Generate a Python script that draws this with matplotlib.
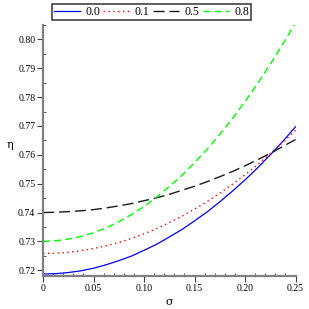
import matplotlib
matplotlib.use("Agg")
import matplotlib.pyplot as plt
from matplotlib.ticker import MultipleLocator

sigma = [0.0, 0.0125, 0.025, 0.0375, 0.05, 0.0625, 0.075, 0.0875, 0.1, 0.1125, 0.125,
         0.1375, 0.15, 0.1625, 0.175, 0.1875, 0.2, 0.2125, 0.225, 0.2375, 0.25]
eta_00 = [0.7187, 0.7188, 0.7192, 0.7198, 0.7207, 0.7219, 0.7233, 0.7249, 0.7269, 0.7290, 0.7315,
          0.7341, 0.7371, 0.7402, 0.7437, 0.7474, 0.7513, 0.7555, 0.7600, 0.7647, 0.7697]
eta_01 = [0.7258, 0.7259, 0.7262, 0.7268, 0.7275, 0.7285, 0.7296, 0.7310, 0.7326, 0.7344, 0.7365,
          0.7387, 0.7412, 0.7438, 0.7467, 0.7498, 0.7531, 0.7566, 0.7604, 0.7643, 0.7685]
eta_05 = [0.7400, 0.7401, 0.7403, 0.7406, 0.7410, 0.7416, 0.7423, 0.7431, 0.7441, 0.7451, 0.7463,
          0.7477, 0.7491, 0.7507, 0.7524, 0.7542, 0.7562, 0.7583, 0.7605, 0.7629, 0.7653]
eta_08 = [0.7300, 0.7302, 0.7308, 0.7317, 0.7330, 0.7347, 0.7368, 0.7393, 0.7421, 0.7454, 0.7490,
          0.7529, 0.7573, 0.7620, 0.7671, 0.7726, 0.7785, 0.7848, 0.7914, 0.7985, 0.8058]
series_labels = ["0.0", "0.1", "0.5", "0.8"]
xticks = [0, 0.05, 0.10, 0.15, 0.20, 0.25]
xtick_labels = ["0", "0.05", "0.10", "0.15", "0.20", "0.25"]
yticks = [0.72, 0.73, 0.74, 0.75, 0.76, 0.77, 0.78, 0.79, 0.80]
ytick_labels = ["0.72", "0.73", "0.74", "0.75", "0.76", "0.77", "0.78", "0.79", "0.80"]

plt.rcParams['font.family'] = ['Liberation Serif', 'DejaVu Serif']

fig = plt.figure(figsize=(3.09, 3.09), dpi=100)
ax = fig.add_axes([43/309, 33/309, (295.5-43)/309, (284-33)/309])

l0, = ax.plot(sigma, eta_00, color=(0, 0, 1), lw=0.9, linestyle='-')
l1, = ax.plot(sigma, eta_01, color=(1, 0, 0), lw=1.0, linestyle=(0, (1, 2.5)))
l5, = ax.plot(sigma, eta_05, color=(0.1, 0.1, 0.1), lw=1.0, linestyle=(0, (8, 3.5)))
l8, = ax.plot(sigma, eta_08, color=(0, 1, 0), lw=1.0, linestyle=(0, (5, 3)))

ax.set_xlim(0, 0.25)
ax.set_ylim(0.718, 0.805)
ax.set_xticks(xticks)
ax.set_xticklabels(xtick_labels)
ax.set_yticks(yticks)
ax.set_yticklabels(ytick_labels)
ax.xaxis.set_minor_locator(MultipleLocator(0.01))
ax.yaxis.set_minor_locator(MultipleLocator(0.005))

for s in ['top', 'right']:
    ax.spines[s].set_visible(False)
for s in ['left', 'bottom']:
    ax.spines[s].set_color('#808080')
    ax.spines[s].set_linewidth(1.6)

ax.tick_params(which='major', direction='out', length=4, width=0.8, color='#404040',
               labelsize=7, pad=1.5)
ax.tick_params(which='minor', direction='in', length=2, width=0.6, color='#404040')

ax.set_xlabel('σ', fontsize=8, labelpad=3, family=['DejaVu Serif'])
ax.set_ylabel('η', fontsize=8, rotation=0, labelpad=8, family=['DejaVu Serif'])
ax.yaxis.set_label_coords(-0.13, 0.5)

leg = fig.legend([l0, l1, l5, l8], series_labels, loc='upper left',
                 bbox_to_anchor=(52/309, 1 - 4/309), ncol=4, fontsize=8.5,
                 frameon=True, fancybox=False, handlelength=2.2, handletextpad=0.45,
                 columnspacing=0.3, borderpad=0.15, borderaxespad=0)
leg.get_frame().set_edgecolor('black')
leg.get_frame().set_linewidth(1.1)

fig.savefig('out.png', dpi=100)
